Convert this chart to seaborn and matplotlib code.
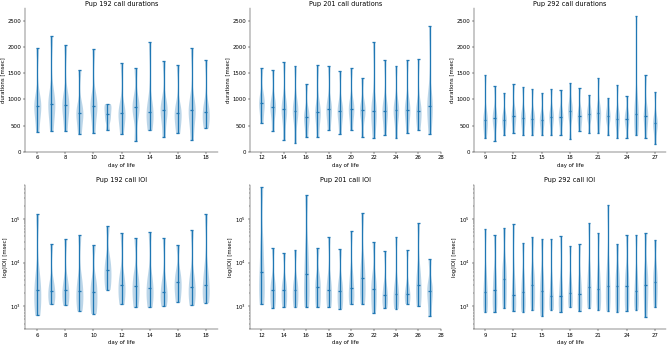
import numpy as np
import pandas as pd
import seaborn as sns
import matplotlib.pyplot as plt

# days of life per pup
days192 = list(range(6, 19))
days201 = list(range(12, 28))
days292 = list(range(9, 28))

# call durations [msec]: min, lower bulge, median, upper bulge, max
dur192_min = [380, 390, 395, 340, 350, 410, 330, 200, 410, 290, 350, 230, 450]
dur192_q1 = [760, 780, 770, 610, 760, 600, 620, 700, 640, 670, 600, 660, 620]
dur192_med = [880, 920, 900, 740, 880, 720, 730, 850, 750, 800, 730, 790, 750]
dur192_q3 = [1010, 1060, 1040, 880, 1020, 830, 870, 1000, 900, 950, 870, 930, 900]
dur192_max = [1990, 2210, 2040, 1570, 1970, 920, 1700, 1600, 2100, 1730, 1660, 1990, 1760]

dur201_min = [540, 400, 230, 170, 290, 290, 420, 330, 410, 280, 270, 310, 270, 350, 420, 340]
dur201_q1 = [800, 740, 680, 660, 540, 640, 690, 650, 700, 670, 650, 660, 670, 690, 660, 740]
dur201_med = [930, 860, 810, 780, 660, 750, 810, 770, 820, 790, 770, 780, 790, 800, 770, 880]
dur201_q3 = [1080, 990, 950, 920, 790, 880, 950, 900, 950, 920, 900, 910, 920, 930, 900, 1040]
dur201_max = [1600, 1570, 1710, 1640, 1290, 1650, 1640, 1550, 1590, 1400, 2100, 1750, 1640, 1750, 1780, 2400]

dur292_min = [260, 200, 310, 350, 310, 320, 320, 320, 320, 240, 390, 350, 360, 320, 260, 270, 320, 260, 140]
dur292_q1 = [500, 540, 520, 580, 550, 530, 520, 570, 570, 660, 580, 620, 620, 580, 530, 530, 610, 570, 440]
dur292_med = [600, 640, 610, 680, 650, 630, 610, 670, 670, 780, 680, 720, 730, 680, 630, 630, 720, 680, 540]
dur292_q3 = [720, 760, 720, 800, 770, 750, 720, 790, 790, 920, 800, 840, 860, 800, 750, 750, 850, 810, 660]
dur292_max = [1460, 1260, 1120, 1290, 1230, 1190, 1120, 1200, 1170, 1310, 1220, 1090, 1410, 1020, 1270, 1070, 2600, 1470, 1140]

# inter-onset intervals [msec]
ioi192_min = [620, 1100, 1050, 780, 680, 2400, 1100, 950, 950, 1000, 1250, 1050, 1200]
ioi192_q1 = [1300, 1600, 1600, 1400, 1200, 4200, 1900, 1800, 1700, 1500, 2300, 1800, 1900]
ioi192_med = [2300, 2250, 2300, 2200, 2150, 6800, 3000, 2900, 2600, 2150, 3500, 2750, 3100]
ioi192_q3 = [5000, 3500, 3800, 4200, 3800, 12000, 5000, 5200, 4800, 3800, 6000, 5000, 7000]
ioi192_max = [130000, 27000, 35000, 43000, 26000, 70000, 48000, 37000, 51000, 37000, 26000, 55000, 130000]

ioi201_min = [1100, 930, 950, 950, 980, 950, 950, 870, 1100, 1150, 700, 920, 880, 1150, 1000, 600]
ioi201_q1 = [2500, 1500, 1500, 1500, 2200, 1600, 1500, 1400, 1700, 2200, 1400, 1300, 1300, 1500, 1800, 1300]
ioi201_med = [6000, 2400, 2300, 2350, 5500, 2800, 2400, 2250, 2600, 4400, 2500, 1850, 1900, 1950, 3100, 2200]
ioi201_q3 = [25000, 3800, 3600, 3700, 20000, 4500, 4200, 3700, 5500, 10000, 4500, 3000, 3200, 2800, 6500, 3300]
ioi201_max = [550000, 22000, 17000, 19000, 350000, 22000, 38000, 20000, 52000, 135000, 30000, 18000, 39000, 19000, 80000, 12000]

ioi292_min = [740, 720, 890, 770, 750, 800, 600, 840, 720, 950, 760, 920, 820, 780, 740, 780, 840, 570, 940]
ioi292_q1 = [1200, 1300, 2000, 1100, 1200, 1600, 1200, 1100, 1100, 1300, 1200, 1600, 1500, 1600, 1500, 1500, 1300, 1500, 2000]
ioi292_med = [2100, 2400, 4200, 1800, 2100, 3000, 2250, 1700, 1700, 2000, 1950, 2700, 2500, 2900, 2900, 2900, 2200, 3100, 3600]
ioi292_q3 = [5000, 5500, 9000, 4500, 4500, 6000, 5000, 3800, 3800, 3800, 4000, 6500, 6000, 8000, 6000, 6000, 5000, 6500, 7000]
ioi292_max = [58000, 42000, 63000, 75000, 28000, 38000, 34000, 35000, 40000, 24000, 27000, 80000, 48000, 210000, 27000, 43000, 43000, 48000, 33000]

C0 = '#1f77b4'
LW = 2.4
DPI = 39


def violins(ax, days, mins, q1s, meds, q3s, maxs, log=False):
    rows = []
    for i, d in enumerate(days):
        for v in (mins[i], q1s[i], meds[i], q3s[i], maxs[i]):
            rows.append({'day': d, 'value': v})
    df = pd.DataFrame(rows)
    sns.violinplot(data=df, x='day', y='value', orient='x', native_scale=True,
                   cut=0, inner=None, density_norm='width', width=0.5,
                   color=C0, saturation=1, alpha=0.3, linewidth=0,
                   bw_adjust=0.5, log_scale=(False, log), ax=ax)
    d = np.array(days)
    ax.vlines(d, mins, maxs, color=C0, lw=LW)
    for vals in (mins, maxs, meds):
        ax.hlines(vals, d - 0.125, d + 0.125, color=C0, lw=LW)
    span = d[-1] - d[0] + 0.5
    ax.set_xlim(d[0] - 0.25 - 0.05 * span, d[-1] + 0.25 + 0.05 * span)
    ax.set_xlabel('day of life')
    sns.despine(ax=ax)


fig = plt.figure(figsize=(667 / DPI, 346 / DPI), dpi=DPI)
lefts = [25 / 667, 250 / 667, 474 / 667]
widths = [193 / 667, 191 / 667, 192 / 667]
top_b, bot_b, h = 0.5616, 0.0491, 0.416

pups = ['192', '201', '292']
all_days = [days192, days201, days292]
durs = [(dur192_min, dur192_q1, dur192_med, dur192_q3, dur192_max),
        (dur201_min, dur201_q1, dur201_med, dur201_q3, dur201_max),
        (dur292_min, dur292_q1, dur292_med, dur292_q3, dur292_max)]
iois = [(ioi192_min, ioi192_q1, ioi192_med, ioi192_q3, ioi192_max),
        (ioi201_min, ioi201_q1, ioi201_med, ioi201_q3, ioi201_max),
        (ioi292_min, ioi292_q1, ioi292_med, ioi292_q3, ioi292_max)]
xticks = [range(6, 19, 2), range(12, 29, 2), range(9, 28, 3)]

for k in range(3):
    ax = fig.add_axes([lefts[k], top_b, widths[k], h])
    violins(ax, all_days[k], *durs[k])
    ax.set_ylim(0, 2750)
    ax.set_xticks(list(xticks[k]))
    ax.set_ylabel('durations [msec]')
    ax.set_title('Pup ' + pups[k] + ' call durations', pad=3)

    ax = fig.add_axes([lefts[k], bot_b, widths[k], h])
    violins(ax, all_days[k], *iois[k], log=True)
    ax.set_ylim(300, 6e5)
    ax.set_xticks(list(xticks[k]))
    ax.set_ylabel('log(IOI) [msec]')
    ax.set_title('Pup ' + pups[k] + ' call IOI')

fig.savefig('out.png', dpi=DPI)
